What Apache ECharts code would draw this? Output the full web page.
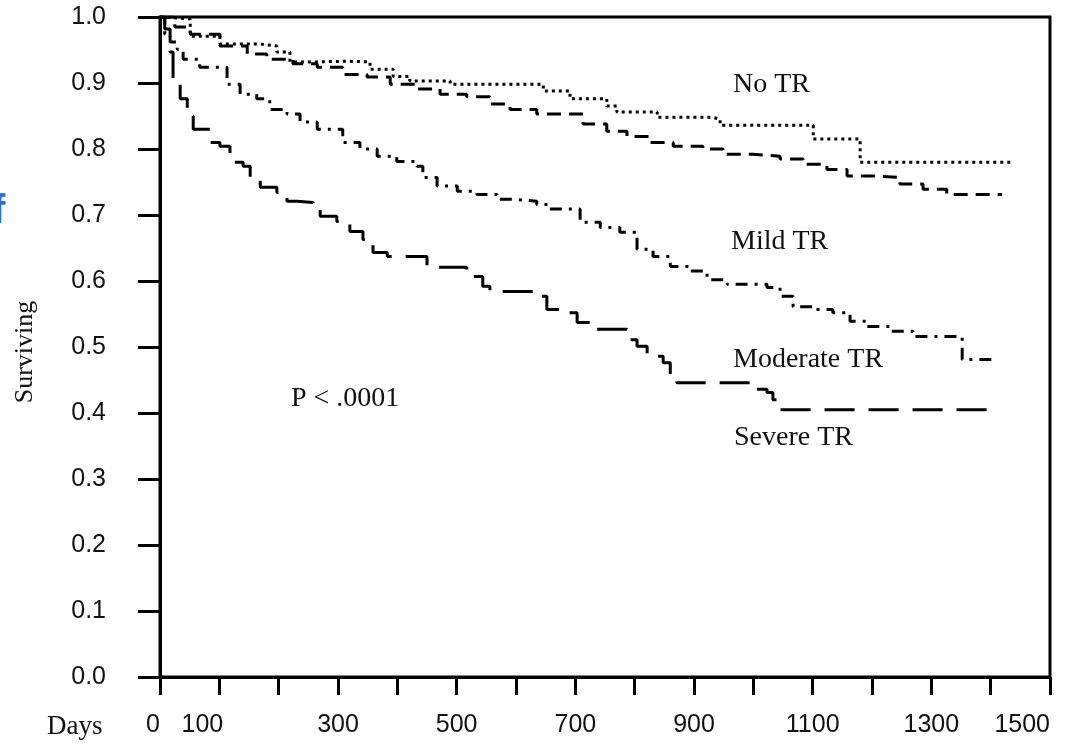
<!DOCTYPE html>
<html>
<head>
<meta charset="utf-8">
<script src="https://cdn.jsdelivr.net/npm/echarts@6/dist/echarts.min.js"></script>
<style>
html, body { margin: 0; padding: 0; background: #fff; }
#chart { width: 1074px; height: 744px; }
</style>
</head>
<body>
<div id="chart"></div>
<script>
// survival curves (days, fraction surviving)
var noTrDays = [0, 8, 51, 101, 169, 197, 219, 265, 315, 354, 393, 421, 489, 602, 646, 691, 753, 770, 838, 932, 944, 1074, 1101, 1163, 1180, 1433];
var noTrSurv = [1.0, 0.997, 0.971, 0.959, 0.956, 0.947, 0.932, 0.933, 0.932, 0.921, 0.910, 0.903, 0.898, 0.898, 0.888, 0.876, 0.865, 0.856, 0.848, 0.845, 0.836, 0.836, 0.815, 0.815, 0.780, 0.780];

var mildDays = [0, 25, 51, 101, 147, 180, 224, 265, 308, 349, 388, 433, 472, 517, 556, 590, 635, 713, 753, 787, 826, 865, 915, 949, 999, 1045, 1084, 1124, 1158, 1208, 1247, 1286, 1326, 1419];
var mildSurv = [1.0, 0.985, 0.974, 0.956, 0.944, 0.936, 0.929, 0.924, 0.913, 0.909, 0.898, 0.891, 0.883, 0.879, 0.868, 0.860, 0.853, 0.838, 0.827, 0.819, 0.810, 0.804, 0.800, 0.792, 0.789, 0.785, 0.777, 0.769, 0.759, 0.757, 0.747, 0.739, 0.731, 0.731];

var modDays = [0, 8, 17, 29, 39, 67, 113, 135, 163, 185, 214, 236, 265, 308, 337, 366, 399, 433, 443, 467, 501, 534, 568, 595, 635, 657, 708, 742, 775, 804, 831, 860, 893, 922, 956, 1023, 1045, 1067, 1101, 1134, 1163, 1192, 1230, 1269, 1352, 1411];
var modSurv = [1.0, 0.974, 0.962, 0.951, 0.936, 0.924, 0.898, 0.883, 0.876, 0.860, 0.853, 0.841, 0.830, 0.810, 0.800, 0.789, 0.781, 0.774, 0.757, 0.744, 0.736, 0.731, 0.724, 0.721, 0.716, 0.709, 0.689, 0.681, 0.674, 0.648, 0.637, 0.622, 0.615, 0.602, 0.595, 0.590, 0.577, 0.561, 0.557, 0.552, 0.539, 0.531, 0.524, 0.516, 0.481, 0.481];

var sevDays = [0, 8, 17, 22, 34, 46, 56, 84, 101, 118, 140, 152, 169, 197, 214, 231, 258, 270, 298, 320, 342, 359, 383, 450, 501, 517, 544, 556, 612, 629, 652, 686, 703, 725, 775, 787, 804, 821, 848, 860, 871, 983, 999, 1023, 1033, 1040, 1416];
var sevSurv = [1.0, 0.982, 0.947, 0.901, 0.876, 0.850, 0.830, 0.810, 0.804, 0.780, 0.774, 0.754, 0.742, 0.734, 0.721, 0.719, 0.712, 0.698, 0.690, 0.675, 0.663, 0.643, 0.637, 0.621, 0.621, 0.607, 0.592, 0.584, 0.584, 0.577, 0.557, 0.552, 0.537, 0.527, 0.527, 0.511, 0.501, 0.486, 0.476, 0.455, 0.446, 0.446, 0.436, 0.431, 0.420, 0.405, 0.405];

// x tick labels that are printed
var xLabels = [0, 100, 300, 500, 700, 900, 1100, 1300, 1500];

function pairs(xs, ys) {
  var out = [];
  for (var i = 0; i < xs.length; i++) out.push([xs[i], ys[i]]);
  return out;
}

function curve(name, xs, ys, dash) {
  return {
    name: name,
    type: 'line',
    step: 'end',
    showSymbol: false,
    data: pairs(xs, ys),
    lineStyle: { color: '#000', width: 3, type: dash, cap: 'butt' }
  };
}

var serif = '"Liberation Serif", "Times New Roman", serif';
var sans = '"Liberation Sans", Arial, sans-serif';

var myChart = echarts.init(document.getElementById('chart'));

option = {
  animation: false,
  backgroundColor: '#fff',
  grid: {
    left: 160, right: 24, top: 17, bottom: 67,
    show: true, borderColor: '#000', borderWidth: 3, backgroundColor: 'transparent'
  },
  xAxis: {
    type: 'value',
    min: 0, max: 1500, interval: 100,
    splitLine: { show: false },
    axisLine: { lineStyle: { color: '#000', width: 3 } },
    axisTick: { length: 18, lineStyle: { color: '#000', width: 3 } },
    axisLabel: {
      margin: 36,
      fontSize: 25,
      fontFamily: sans,
      color: '#111',
      alignMinLabel: 'right',
      alignMaxLabel: 'right',
      formatter: function (v) {
        if (xLabels.indexOf(v) < 0) return '';
        return v === 100 ? '{s|100}' : String(v);
      },
      rich: { s: { padding: [0, 34, 0, 0], fontSize: 25, fontFamily: sans, color: '#111' } }
    }
  },
  yAxis: {
    type: 'value',
    min: 0, max: 1, interval: 0.1,
    splitLine: { show: false },
    axisLine: { lineStyle: { color: '#000', width: 3 } },
    axisTick: { length: 22, lineStyle: { color: '#000', width: 3 } },
    axisLabel: {
      margin: 54,
      fontSize: 25,
      fontFamily: sans,
      color: '#111',
      formatter: function (v) { return v.toFixed(1); }
    }
  },
  series: [
    curve('No TR', noTrDays, noTrSurv, [3, 4]),
    curve('Mild TR', mildDays, mildSurv, [14, 8]),
    curve('Moderate TR', modDays, modSurv, [12, 7, 3, 7]),
    curve('Severe TR', sevDays, sevSurv, [30, 14])
  ],
  graphic: [
    { type: 'text', x: 733, y: 85, style: { text: 'No TR', font: '28px ' + serif, fill: '#111', verticalAlign: 'middle' } },
    { type: 'text', x: 731, y: 242, style: { text: 'Mild TR', font: '28px ' + serif, fill: '#111', verticalAlign: 'middle' } },
    { type: 'text', x: 733, y: 360, style: { text: 'Moderate TR', font: '28px ' + serif, fill: '#111', verticalAlign: 'middle' } },
    { type: 'text', x: 734, y: 438, style: { text: 'Severe TR', font: '28px ' + serif, fill: '#111', verticalAlign: 'middle' } },
    { type: 'text', x: 291, y: 399, style: { text: 'P < .0001', font: '28px ' + serif, fill: '#111', verticalAlign: 'middle' } },
    { type: 'text', x: 47, y: 727, style: { text: 'Days', font: '27px ' + serif, fill: '#111', verticalAlign: 'middle' } },
    { type: 'text', x: 25, y: 352, rotation: Math.PI / 2, style: { text: 'Surviving', font: '26px ' + serif, fill: '#111', align: 'center', verticalAlign: 'middle' } },
    { type: 'text', x: -8, y: 212, style: { text: 'f', font: 'bold 40px ' + sans, fill: '#2a6fd6', verticalAlign: 'middle' } }
  ]
};

myChart.setOption(option);
</script>
</body>
</html>
